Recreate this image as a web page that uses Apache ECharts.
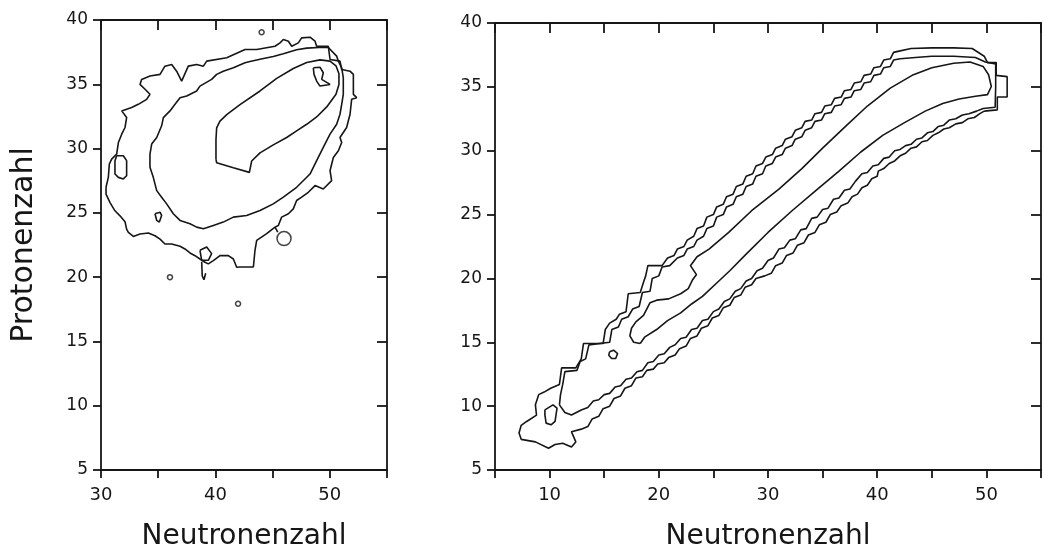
<!DOCTYPE html>
<html><head><meta charset="utf-8">
<script src="https://cdn.jsdelivr.net/npm/echarts@6/dist/echarts.min.js"></script>
<style>html,body{margin:0;padding:0;background:#fff}#c{width:1044px;height:556px}</style>
</head><body><div id="c"></div>
<script>
// ---------- axis values ----------
const leftXRange = [30, 55];
const rightXRange = [5, 55];
const yRange = [5, 40];
const tickStep = 5;
const labelStep = 10;
const xTitle = 'Neutronenzahl';
const yTitle = 'Protonenzahl';

// ---------- left panel contours (N, Z) ----------
const leftOuter = [[30.44,26.99],[30.64,27.76],[30.73,28.80],[30.93,29.18],[31.37,29.57],[31.52,30.47],[31.81,31.12],[32.10,31.64],[32.24,32.41],[31.81,32.93],[31.95,33.06],[32.68,33.19],[33.26,33.44],[33.99,33.83],[34.28,34.22],[33.85,34.61],[33.41,34.99],[33.55,35.38],[34.28,35.64],[35.16,35.77],[35.59,36.41],[36.18,36.54],[36.61,36.02],[37.05,35.25],[37.63,36.41],[38.36,36.54],[38.95,36.41],[39.24,36.80],[40.99,37.06],[42.59,37.70],[43.61,37.70],[45.21,37.96],[45.65,38.22],[45.94,38.48],[46.38,38.35],[46.67,37.96],[47.25,38.22],[47.54,38.61],[48.27,38.66],[48.71,38.35],[48.85,37.96],[49.87,37.96],[50.02,36.93],[50.89,36.80],[51.04,36.15],[51.77,36.02],[52.06,35.77],[52.06,34.22],[52.35,33.96],[51.91,33.83],[51.77,32.67],[51.47,31.64],[50.89,30.86],[51.04,30.47],[50.75,29.83],[50.31,29.31],[50.02,28.28],[50.16,27.51],[49.43,26.86],[48.71,27.12],[48.12,26.60],[47.54,26.22],[47.10,25.96],[46.81,25.31],[46.38,24.93],[45.79,24.67],[45.50,24.02],[45.21,23.89],[44.48,23.38],[43.61,22.86],[43.46,22.09],[43.32,20.79],[42.15,20.79],[41.86,20.77],[41.57,21.41],[41.13,21.67],[40.40,21.67],[39.82,21.29],[39.38,21.03],[39.09,21.16],[38.65,21.41],[38.22,21.67],[37.78,21.88],[37.34,22.19],[36.91,22.40],[36.18,22.58],[35.59,22.58],[35.16,22.96],[34.72,23.22],[34.14,23.43],[33.41,23.35],[32.83,23.17],[32.39,23.48],[32.24,23.74],[32.10,24.31],[31.66,24.77],[31.22,25.16],[30.79,25.80],[30.44,26.45],[30.44,26.99]];
const leftMiddle = [[42.59,36.67],[41.57,36.28],[40.69,36.02],[40.11,35.77],[39.67,35.38],[38.65,34.86],[38.36,34.48],[37.49,34.09],[36.91,33.96],[36.47,33.44],[36.03,32.93],[35.45,32.41],[35.30,31.77],[34.87,30.86],[34.43,30.35],[34.28,29.57],[34.28,28.54],[34.57,27.76],[34.87,26.73],[35.30,26.22],[35.74,25.70],[36.32,24.93],[36.91,24.41],[37.78,24.15],[38.36,23.89],[38.95,23.76],[39.82,24.02],[40.69,24.28],[41.57,24.67],[42.73,24.80],[43.90,25.18],[45.06,25.70],[45.94,26.22],[47.10,26.99],[48.27,28.02],[48.85,29.06],[49.43,30.09],[50.02,31.12],[50.60,31.89],[50.89,32.67],[51.04,33.44],[51.18,34.22],[51.18,35.51],[51.04,36.28],[50.75,36.80],[50.60,37.19],[49.87,37.86],[49.43,37.88],[47.98,37.81],[47.10,37.68],[45.94,37.37],[45.06,37.16],[43.90,36.95],[43.02,36.77],[42.59,36.67]];
const leftInner = [[40.05,29.16],[40.05,30.71],[40.11,31.61],[40.40,32.13],[40.99,32.64],[42.15,33.42],[43.90,34.48],[45.36,35.46],[46.81,36.23],[47.98,36.70],[49.14,36.90],[50.02,36.80],[50.54,36.44],[50.80,35.82],[50.80,34.99],[50.54,34.22],[49.73,33.24],[48.85,32.46],[47.98,31.89],[47.10,31.38],[46.23,30.86],[45.06,30.29],[43.90,29.67],[43.17,29.03],[42.97,28.15],[41.57,28.51],[40.11,28.90],[40.05,29.16]];
const leftIsland = [[31.37,29.44],[31.95,29.44],[32.24,29.06],[32.24,27.89],[31.95,27.64],[31.52,27.76],[31.22,28.02],[31.22,29.06],[31.37,29.44]];
const leftTriangle = [[34.72,24.93],[35.16,25.05],[35.30,24.80],[35.10,24.28],[34.87,24.41],[34.72,24.93]];
const leftLoop = [[38.65,22.09],[39.24,22.34],[39.67,21.83],[39.38,21.31],[38.80,21.31],[38.65,22.09]];
const leftStalk = [[38.80,21.20],[38.85,20.10],[39.00,19.80],[39.15,20.30]];
const leftHook = [[48.56,36.28],[49.14,36.33],[49.43,35.90],[49.29,35.38],[50.02,34.99],[49.14,34.86],[48.85,35.25],[48.62,35.77],[48.56,36.28]];
const leftLink = [[45.21,23.89],[45.45,23.50]];
const leftBigRing = [[46.0,23.0]];
const leftSmallRings = [[44.04,39.05],[36.03,20.0],[41.98,17.93]];

// ---------- right panel contours (N, Z) ----------
const rightOuter = [[49.8,33.1],[51.0,33.2],[51.0,34.2],[51.9,34.2],[51.9,35.8],[50.9,35.9],[50.9,36.9],[50.1,36.9],[49.8,37.4],[48.7,38.0],[47.0,38.05],[45.0,38.05],[43.1,38.0],[42.0,37.8],
[41.5,37.7],[41.2,37.2],[40.6,37.1],[40.3,36.6],[39.7,36.5],[39.4,36.0],[38.8,35.9],[38.5,35.4],[37.9,35.3],[37.6,34.8],[37.0,34.7],[36.7,34.2],[36.1,34.1],[35.8,33.6],[35.2,33.5],[34.9,33.0],[34.3,32.9],[34.0,32.4],[33.4,32.3],[33.1,31.8],[32.5,31.6],[32.2,31.1],[31.6,30.9],[31.3,30.4],[30.7,30.2],[30.4,29.7],[29.8,29.5],[29.5,29.0],[28.9,28.8],[28.6,28.2],[28.0,28.0],[27.7,27.4],[27.1,27.2],[26.8,26.6],[26.2,26.4],[25.9,25.8],[25.3,25.6],[25.0,25.0],[24.4,24.8],[24.1,24.1],[23.5,23.9],[23.2,23.3],[22.6,23.0],[22.3,22.5],[21.7,22.3],[21.4,21.8],[20.8,21.6],[20.3,21.0],[19.0,21.0],[18.8,20.2],[18.6,19.7],[18.3,18.9],[17.2,18.8],[17.0,17.4],[16.4,17.2],[16.1,16.8],[15.5,16.5],[15.1,16.0],[14.9,14.9],[13.1,14.9],[12.9,13.7],[12.4,13.0],[11.1,13.0],[10.9,11.7],[10.1,11.4],[9.5,11.1],[9.0,10.9],[8.7,10.1],[8.8,9.3],[7.9,8.8],[7.4,8.5],[7.2,7.9],[7.4,7.4],[8.7,7.2],[9.9,6.7],[10.5,7.0],[11.2,7.1],[12.0,6.8],[12.4,7.2],[12.0,8.0],[12.9,8.2],
[13.5,8.4],[13.9,9.0],[14.5,9.2],[14.9,9.8],[15.5,10.0],[15.9,10.6],[16.5,10.8],[16.9,11.4],[17.5,11.6],[17.9,12.2],[18.5,12.3],[18.9,12.8],[19.5,12.9],[19.9,13.3],[20.5,13.4],[20.9,13.8],[21.5,14.0],[21.9,14.5],[22.5,14.7],[22.9,15.3],[23.5,15.5],[23.9,16.1],[24.5,16.3],[24.9,16.9],[25.5,17.1],[25.9,17.7],[26.5,17.9],[26.9,18.5],[27.5,18.7],[27.9,19.3],[28.5,19.5],[28.9,20.0],[29.7,20.2],
[30.3,20.4],[30.7,21.0],[31.3,21.2],[31.7,21.8],[32.3,22.0],[32.7,22.6],[33.3,22.8],[33.7,23.4],[34.3,23.6],[34.7,24.2],[35.3,24.4],[35.7,25.0],[36.3,25.2],[36.7,25.7],[37.3,25.9],[37.7,26.4],[38.2,26.6],[38.6,27.1],[39.1,27.3],[39.5,27.8],[40.0,28.0],[40.1,28.4],[40.6,28.6],[41.1,29.0],[41.6,29.2],[42.1,29.6],[42.6,29.8],[43.1,30.2],[43.6,30.3],[44.1,30.7],[44.6,30.8],[45.1,31.2],[45.6,31.4],[46.1,31.7],[46.6,31.8],[47.2,32.1],[47.8,32.2],[48.3,32.5],[48.9,32.6],[49.4,32.9],[49.8,33.1]];
const rightSecond = [[10.9,10.1],[11.4,9.5],[12.0,9.3],[12.9,9.7],[13.5,9.9],[14.0,10.4],[14.5,10.5],[15.0,10.9],[15.5,11.0],[16.0,11.5],[16.5,11.6],[17.0,12.1],[17.5,12.2],[18.0,12.7],[18.5,12.8],[19.0,13.4],[19.5,13.5],[20.0,14.0],[20.5,14.1],[21.0,14.6],[21.5,14.8],[22.0,15.3],[22.5,15.4],[23.0,16.0],[23.5,16.1],[24.0,16.7],[24.5,16.8],[25.0,17.4],[25.5,17.6],[26.0,18.2],[26.5,18.4],[27.0,19.0],[27.5,19.2],[28.0,19.8],[28.5,20.0],[29.0,20.6],[29.5,20.8],[30.0,21.4],[30.5,21.6],[31.0,22.3],[31.5,22.4],[32.0,23.0],[32.5,23.1],[33.0,23.8],[33.5,23.9],[34.0,24.7],[34.5,24.8],[35.0,25.4],[35.5,25.5],[36.0,26.2],[36.5,26.3],[37.0,26.9],[37.5,27.0],[38.0,27.6],[38.6,28.2],[39.1,28.3],[39.6,28.8],[40.1,28.9],[40.6,29.4],[41.1,29.5],[41.6,30.0],[42.1,30.1],[42.6,30.4],[43.1,30.5],[43.6,30.9],[44.1,31.0],[44.6,31.4],[45.1,31.5],[45.6,31.9],[46.1,32.0],[46.6,32.4],[47.2,32.5],[47.8,32.8],[48.4,32.9],[49.1,33.1],[49.7,33.3],
[50.8,33.4],[50.85,35.0],[50.85,36.8],[49.9,36.95],[49.0,37.3],[47.0,37.4],[45.0,37.4],[43.5,37.3],[42.1,37.2],[41.5,37.1],[41.2,36.6],[40.6,36.5],[40.3,36.0],[39.7,35.9],[39.4,35.4],[38.8,35.3],[38.5,34.8],[37.9,34.7],[37.6,34.2],[37.0,34.1],[36.7,33.6],[36.1,33.5],[35.8,33.0],[35.2,32.9],[34.9,32.4],[34.3,32.3],[34.0,31.8],[33.4,31.6],[33.1,31.1],[32.5,30.9],[32.2,30.4],[31.6,30.2],[31.3,29.7],[30.7,29.5],[30.4,29.0],[29.8,28.8],[29.5,28.2],[28.9,28.0],[28.6,27.4],[28.0,27.2],[27.7,26.6],[27.1,26.4],[26.8,25.8],[26.2,25.6],[25.9,25.0],[25.3,24.8],[25.0,24.1],[24.4,23.9],[24.1,23.3],[23.5,23.0],[23.2,22.5],[22.6,22.3],[22.3,21.8],[21.7,21.6],[21.0,21.0],[20.3,20.9],[20.0,20.2],[19.4,20.0],[19.2,19.0],[18.5,18.9],[18.2,17.8],[17.6,17.6],[17.2,17.0],[16.6,16.8],[16.3,16.2],[15.7,16.0],[15.5,15.0],[13.6,14.8],[13.3,13.7],[12.8,13.5],[12.5,12.8],[11.4,12.7],[11.2,11.7],[11.0,10.9],[10.9,10.1]];
const rightInner = [[18.3,14.9],[17.7,15.0],[17.35,15.5],[17.5,16.1],[17.9,16.6],[18.6,17.1],[19.2,18.1],[19.8,18.3],[20.9,18.4],[22.0,18.8],[22.7,19.2],[23.1,19.9],[23.45,20.3],[22.9,21.0],[23.5,21.7],[24.6,22.3],[26.4,23.6],[28.5,25.3],[31.0,27.0],[33.1,28.6],[35.0,30.2],[37.1,31.9],[39.1,33.5],[41.2,34.9],[43.2,35.9],[45.0,36.5],[47.0,36.85],[48.5,36.95],[49.7,36.6],[50.2,35.95],[50.45,35.03],[50.1,34.39],[49.0,34.26],[47.5,34.05],[46.0,33.7],[44.4,33.1],[42.5,32.2],[40.5,31.2],[38.5,29.9],[36.5,28.4],[34.4,26.9],[32.2,25.3],[30.0,23.6],[28.0,21.9],[26.5,20.6],[25.5,19.8],[24.0,18.6],[23.0,18.0],[22.0,17.3],[20.8,16.7],[19.8,16.0],[18.7,15.4],[18.3,14.9]];
const rightIslandA = [[9.57,9.71],[10.31,10.10],[10.68,9.84],[10.50,8.80],[10.13,8.54],[9.68,8.67],[9.57,9.32],[9.57,9.71]];
const rightIslandB = [[15.49,14.25],[15.86,14.38],[16.23,14.12],[16.05,13.73],[15.68,13.73],[15.42,13.99],[15.49,14.25]];

// ---------- chart ----------
const ink = '#161616';
const font = 'DejaVu Sans';
const chart = echarts.init(document.getElementById('c'), null, {renderer: 'canvas'});

function xLabel(v) { return v % labelStep === 0 ? String(v) : ''; }

function axis(kind, range, gridIndex, pos, main) {
  const a = {
    type: 'value', gridIndex, position: pos, min: range[0], max: range[1], interval: tickStep,
    splitLine: {show: false},
    axisLine: {show: true, onZero: false, lineStyle: {color: ink, width: 1.8}},
    axisTick: {show: true, inside: !main, length: main ? 8 : 10, lineStyle: {color: ink, width: 1.8}},
    axisLabel: {show: main, color: ink, fontFamily: font, fontSize: kind === 'x' ? 18 : 17, margin: kind === 'x' ? 16 : 13},
    z: 5
  };
  if (main && kind === 'x') {
    a.axisLabel.formatter = xLabel;
    a.name = xTitle; a.nameLocation = 'middle'; a.nameGap = 53;
    a.nameTextStyle = {color: ink, fontFamily: font, fontSize: 28};
  }
  return a;
}

const xAxes = [
  axis('x', leftXRange, 0, 'bottom', true),
  axis('x', leftXRange, 0, 'top', false),
  axis('x', rightXRange, 1, 'bottom', true),
  axis('x', rightXRange, 1, 'top', false)
];
const yAxes = [
  axis('y', yRange, 0, 'left', true),
  axis('y', yRange, 0, 'right', false),
  axis('y', yRange, 1, 'left', true),
  axis('y', yRange, 1, 'right', false)
];
yAxes[0].name = yTitle; yAxes[0].nameLocation = 'middle'; yAxes[0].nameGap = 62;
yAxes[0].nameTextStyle = {color: ink, fontFamily: font, fontSize: 30};

function line(data, g) {
  return {type: 'line', xAxisIndex: g * 2, yAxisIndex: g * 2, data, showSymbol: false, symbol: 'none',
    lineStyle: {color: ink, width: 1.6}, silent: true, animation: false, z: 3};
}
function rings(data, g, size) {
  return {type: 'scatter', xAxisIndex: g * 2, yAxisIndex: g * 2, data, symbol: 'circle', symbolSize: size,
    itemStyle: {color: 'rgba(0,0,0,0)', borderColor: ink, borderWidth: 1.5}, silent: true, animation: false, z: 3};
}

chart.setOption({
  backgroundColor: '#ffffff',
  animation: false,
  grid: [
    {left: 101, top: 20, width: 286, height: 452},
    {left: 495, top: 23, width: 555, height: 449}
  ],
  xAxis: xAxes,
  yAxis: yAxes,
  series: [
    line(leftOuter, 0), line(leftMiddle, 0), line(leftInner, 0), line(leftIsland, 0),
    line(leftTriangle, 0), line(leftLoop, 0), line(leftStalk, 0), line(leftHook, 0), line(leftLink, 0),
    rings(leftBigRing, 0, 14), rings(leftSmallRings, 0, 5),
    line(rightOuter, 1), line(rightSecond, 1), line(rightInner, 1),
    line(rightIslandA, 1), line(rightIslandB, 1)
  ]
});
</script></body></html>
